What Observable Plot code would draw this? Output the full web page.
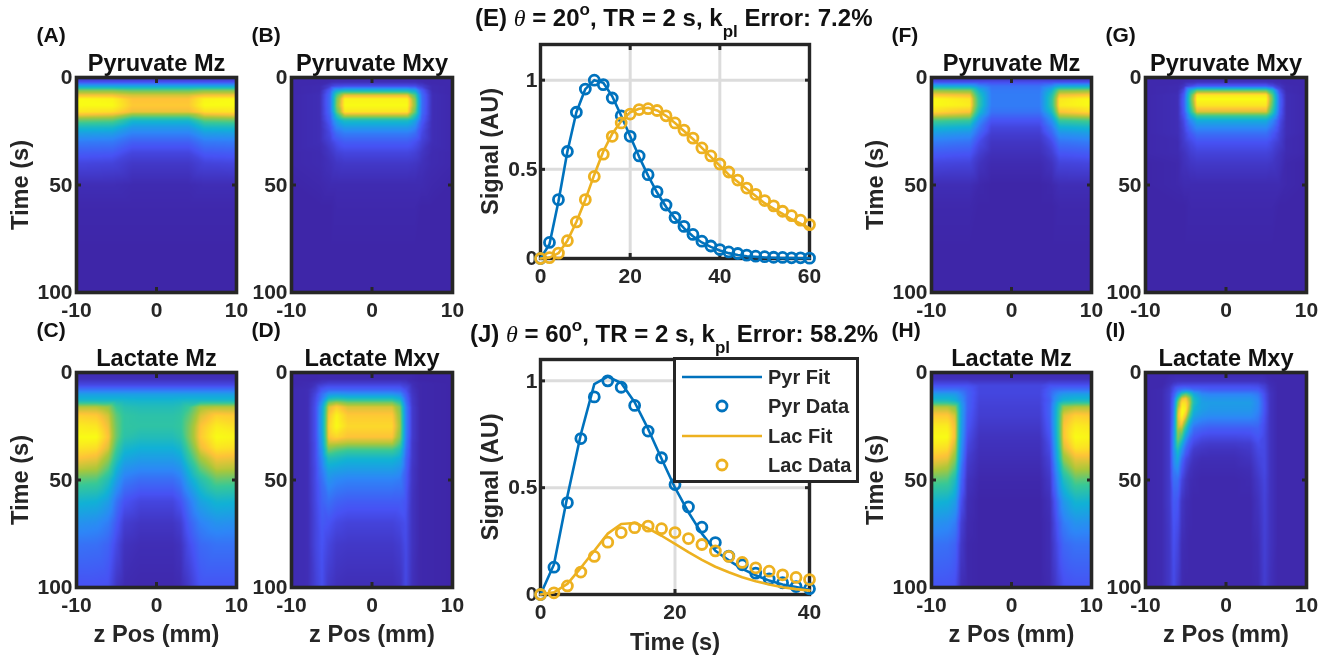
<!DOCTYPE html>
<html>
<head>
<meta charset="utf-8">
<script src="https://cdn.jsdelivr.net/npm/d3@7"></script>
<script src="https://cdn.jsdelivr.net/npm/@observablehq/plot@0.6"></script>
<style>
html,body{margin:0;padding:0;background:#fff;}
#page{position:relative;width:1338px;height:661px;overflow:hidden;font-family:"Liberation Sans",Arial,sans-serif;font-weight:bold;filter:blur(0.45px);}
#page svg.pl{position:absolute;overflow:visible;background:transparent;}
.ttl{position:absolute;white-space:nowrap;font-size:24px;line-height:28px;color:#111;z-index:5;}
.ttl i{font-family:"Liberation Serif",serif;font-weight:normal;}
.ttl .s{font-size:17px;position:relative;top:11px;}
.ttl .o{font-size:17px;position:relative;top:-11px;}
#legend{position:absolute;left:673px;top:357px;width:180px;height:120px;border:3.5px solid #262626;background:#fff;z-index:6;color:#262626;font-size:20px;}
#legend svg{position:absolute;left:0;top:0;}
#legend span{position:absolute;left:92px;line-height:24px;white-space:nowrap;}
</style>
</head>
<body>
<div id="page"></div>
<script>
// ---- line panels ----
const timeE = [0,2,4,6,8,10,12,14,16,18,20,22,24,26,28,30,32,34,36,38,40,42,44,46,48,50,52,54,56,58,60];
const pyrDataE = [0,.09,.33,.60,.82,.95,1,.975,.90,.80,.685,.575,.47,.375,.30,.23,.18,.135,.097,.07,.05,.037,.028,.019,.013,.01,.007,.006,.004,.004,.002];
const pyrFitE  = [0,.08,.32,.60,.82,.95,1,.985,.91,.80,.685,.57,.465,.37,.29,.225,.17,.125,.09,.065,.045,.03,.02,.013,.009,.006,.004,.002,.002,.001,.001];
const lacDataE = [0,.005,.03,.10,.205,.33,.46,.585,.685,.76,.81,.835,.84,.83,.80,.76,.72,.675,.62,.575,.53,.485,.44,.395,.36,.325,.295,.265,.24,.215,.19];
const lacFitE  = [0,.005,.03,.10,.205,.33,.47,.60,.70,.77,.82,.84,.845,.83,.80,.76,.715,.67,.62,.57,.52,.47,.43,.39,.35,.31,.28,.25,.22,.195,.17];
const timeJ = [0,2,4,6,8,10,12,14,16,18,20,22,24,26,28,30,32,34,36,38,40];
const pyrDataJ = [0,.128,.43,.73,.925,1,.97,.885,.765,.64,.515,.41,.315,.243,.18,.139,.10,.073,.055,.037,.027];
const pyrFitJ  = [0,.14,.46,.75,.985,1.02,.99,.90,.775,.635,.50,.385,.285,.205,.16,.12,.09,.065,.047,.035,.022];
const lacDataJ = [0,.008,.04,.105,.178,.245,.29,.313,.32,.308,.29,.262,.234,.204,.178,.15,.125,.109,.092,.08,.07];
const lacFitJ  = [0,.01,.05,.125,.205,.285,.33,.335,.31,.275,.237,.198,.162,.13,.104,.081,.062,.047,.034,.025,.018];

// ---- heat panels: rows are times (s), columns are z positions (mm), cells are % of the colour range ----
const tPyr = [0,2,4,6,8,10,13,16,18,20,23,26,30,35,40,50,60,80,100];
const zA = [-10,-5.5,-3,4,6,10];
const pyrMzA = [
[4,4,4,4,4,4],[15,15,15,15,15,15],[45,45,45,45,45,45],[78,78,74,74,78,78],[90,90,87,87,90,90],[100,99,92,92,99,100],
[100,100,93,93,100,100],[97,96,90,90,96,97],[88,86,74,74,86,88],[74,72,54,54,72,74],[56,55,41,41,55,56],[43,42,32,32,42,43],
[30,29,21,21,29,30],[20,19,12,12,19,20],[12,11,7,7,11,12],[3,3,2,2,3,3],[1,1,1,1,1,1],[0,0,0,0,0,0],[0,0,0,0,0,0]];
const zB = [-10,-6.5,-5.2,-4.4,-3.4,4.4,5.4,6.2,7.5,10];
const pyrMxyB = [
[1,1,1,1,1,1,1,1,1,1],[1,1,2,3,3,3,3,2,1,1],[1,2,9,14,15,15,14,9,2,1],[1,2,20,46,54,54,46,20,2,1],[1,3,25,68,88,88,68,25,3,1],
[1,3,26,76,99,99,76,26,3,1],[1,3,26,78,100,100,78,26,3,1],[1,3,25,72,97,97,72,25,3,1],[1,3,22,58,82,82,58,22,3,1],[1,3,20,44,56,56,44,20,3,1],
[1,3,16,34,42,42,34,16,3,1],[1,3,13,25,30,30,25,13,3,1],[1,3,10,16,20,20,16,10,3,1],[1,2,6,10,12,12,10,6,2,1],[1,2,4,6,7,7,6,4,2,1],
[0,1,2,2,2,2,2,2,1,0],[0,0,0,1,1,1,1,0,0,0],[0,0,0,0,0,0,0,0,0,0],[0,0,0,0,0,0,0,0,0,0]];
const zF = [-10,-5.2,-4,-2.5,3.5,5,6,10];
const pyrMzF = [
[3,3,3,3,3,3,3,3],[14,14,14,14,14,14,14,14],[48,46,34,26,26,34,46,48],[80,78,50,29,29,50,78,80],[92,90,58,30,30,58,90,92],
[100,97,62,30,30,62,97,100],[100,98,62,30,30,62,98,100],[96,92,54,27,27,54,92,96],[86,82,44,22,22,44,82,86],[70,66,36,17,17,36,66,70],
[54,50,28,12,12,28,50,54],[42,38,22,9,9,22,38,42],[30,27,14,6,6,14,27,30],[20,18,9,4,4,9,18,20],[12,11,5,2,2,5,11,12],
[3,3,1,0,0,1,3,3],[1,1,0,0,0,0,1,1],[0,0,0,0,0,0,0,0],[0,0,0,0,0,0,0,0]];
const zG = [-10,-6,-5.2,-4.4,-3.6,5,5.8,6.7,7.5,10];
const pyrMxyG = [
[1,1,1,1,1,1,1,1,1,1],[1,1,2,3,4,4,3,2,1,1],[1,2,6,14,20,20,14,6,2,1],[1,2,14,54,74,74,56,14,2,1],[1,3,20,68,97,97,70,20,3,1],
[1,3,22,72,100,100,74,22,3,1],[1,3,22,68,97,97,70,22,3,1],[1,3,20,60,88,88,62,20,3,1],[1,3,17,46,66,66,48,17,3,1],[1,3,14,34,48,48,34,14,3,1],
[1,3,12,26,36,36,26,12,3,1],[1,3,10,19,26,26,19,10,3,1],[1,2,8,13,17,17,13,8,2,1],[1,2,5,9,11,11,9,5,2,1],[0,1,4,6,7,7,6,4,1,0],
[0,1,2,2,2,2,2,2,1,0],[0,0,0,1,1,1,1,0,0,0],[0,0,0,0,0,0,0,0,0,0],[0,0,0,0,0,0,0,0,0,0]];
const tLacC = [0,3,6,8,10,13,16,20,25,30,35,40,45,50,60,70,80,100];
const zC = [-10,-7.5,-6,-5,-4,-2,2,3,4,5.5,7.5,10];
const lacMzC = [
[2,2,2,2,2,2,2,2,2,2,2,2],[4,4,4,4,4,4,4,4,4,4,4,4],[14,14,14,14,14,14,14,14,14,14,14,14],[27,27,27,27,27,27,27,27,27,27,27,27],[42,42,42,42,42,42,42,42,42,42,42,42],
[54,54,54,54,53,52,52,53,54,54,54,54],[84,84,80,66,60,58,58,60,66,82,84,84],[94,93,87,72,64,62,62,64,72,88,94,93],[98,97,90,74,64,63,63,65,76,92,98,96],[100,100,92,74,62,58,58,62,76,93,100,99],
[97,96,88,68,54,50,50,54,70,90,97,96],[92,90,80,60,46,42,42,46,62,82,91,90],[85,83,70,50,38,34,34,38,52,72,85,84],[72,70,58,42,30,25,25,30,44,60,73,72],[52,50,42,27,17,12,12,17,28,44,52,51],
[38,36,30,19,9,6,6,9,20,32,38,37],[27,26,22,13,5,3,3,5,14,24,27,27],[16,16,15,6,2,1,1,2,7,17,17,17]];
const tLacD = [0,3,5,8,10,12,14,16,20,25,30,33,36,40,45,50,60,70,80,100];
const zD = [-10,-8,-7,-6.2,-5.4,-4.4,-3,2.5,3.5,4.2,5,6,10];
const lacMxyD = [
[1,1,1,1,1,1,1,1,1,1,1,0,0],[1,1,1,2,2,2,2,2,2,2,1,0,0],[1,2,4,7,9,9,9,9,9,7,3,1,0],[2,3,9,18,22,22,22,22,21,15,5,1,0],[2,3,12,26,38,40,38,38,34,20,6,1,0],
[2,3,14,30,54,58,55,55,48,24,7,1,0],[2,3,15,38,76,82,76,76,64,28,7,1,0],[2,3,16,44,88,94,88,88,76,32,8,1,0],[2,3,16,46,92,99,93,93,80,33,8,1,0],[2,3,16,46,94,100,95,95,82,33,8,1,0],
[2,3,16,44,92,95,92,92,78,32,8,1,0],[2,3,15,42,86,86,84,84,70,30,7,1,0],[2,3,15,38,76,72,68,68,58,27,7,1,0],[2,3,15,34,58,56,52,52,47,24,7,1,0],[2,3,14,30,46,44,42,42,38,22,6,1,0],
[2,3,14,26,38,34,32,32,30,20,6,1,0],[2,3,13,22,26,22,20,20,20,17,5,1,0],[2,3,12,19,17,13,11,11,13,15,5,1,0],[2,3,12,17,12,8,7,7,9,14,5,1,0],[2,3,10,15,7,4,3,3,5,13,4,1,0]];
const zH = [-10,-8,-7,-6.3,-5.5,-4,3.5,4.8,5.5,6.5,8,10];
const lacMzH = [
[2,2,2,2,2,2,2,2,2,2,2,2],[4,4,4,4,4,4,4,4,4,4,4,4],[16,16,16,16,16,12,12,16,16,16,16,16],[26,26,26,24,20,12,12,20,24,26,26,26],[42,42,40,32,22,12,12,22,32,40,42,42],
[55,55,50,38,22,11,11,20,38,52,55,55],[84,84,78,44,22,10,10,22,46,80,84,84],[93,93,87,45,20,9,9,22,48,89,94,93],[98,98,90,44,18,7,7,20,48,92,98,97],[100,100,90,42,15,5,5,17,46,92,100,99],
[97,96,85,38,12,4,4,14,42,88,97,96],[92,90,78,34,9,3,3,11,38,80,90,90],[85,82,68,28,7,2,2,9,32,68,84,83],[72,70,56,24,5,1,1,7,27,56,72,71],[52,50,42,16,3,0,0,4,18,40,52,51],
[38,36,30,10,2,0,0,3,14,30,38,37],[27,26,22,7,1,0,0,3,11,23,27,27],[17,17,15,3,1,0,0,2,7,15,17,17]];
const tLacI = [0,4,6,8,10,12,14,17,20,23,26,30,33,36,40,45,50,60,80,100];
const zI = [-10,-8,-7,-6.5,-6,-5.5,-5,-4.5,-4,-3,-2,1,3,4,4.8,5.5,6.5,10];
const lacMxyI = [
[1,1,1,1,1,1,1,1,1,1,1,1,1,1,1,1,1,1],[1,1,3,4,5,5,5,5,5,5,5,5,5,5,4,2,1,1],[1,1,5,10,13,14,14,14,14,14,14,14,14,13,9,3,1,1],[1,2,7,15,24,28,30,28,24,22,20,20,20,19,12,4,1,1],
[1,2,8,20,38,62,72,62,46,34,32,32,32,28,15,5,1,1],[1,2,8,24,60,88,92,80,55,41,38,38,38,32,16,5,1,1],[1,2,8,26,75,96,96,84,58,43,42,42,42,34,17,5,1,1],[1,2,8,28,84,100,98,80,52,43,40,40,40,33,17,5,1,1],
[1,2,8,30,88,100,92,68,45,38,36,36,36,30,16,5,1,1],[1,2,8,32,86,95,78,52,36,30,28,28,28,26,15,5,1,1],[1,2,8,34,84,85,60,38,26,22,20,20,20,21,14,5,1,1],[1,2,8,36,78,68,42,26,18,14,13,13,14,18,13,5,1,1],
[1,2,8,36,70,52,30,19,13,9,8,8,9,15,13,5,1,1],[1,2,8,36,58,38,22,14,8,6,5,5,7,13,13,5,1,1],[1,2,8,34,48,26,14,9,5,3,3,3,5,11,13,5,1,1],[1,2,8,30,36,18,10,5,3,2,2,2,3,9,13,5,1,1],
[1,2,8,26,26,12,6,3,2,1,1,1,2,7,12,5,1,1],[1,2,8,20,18,6,3,2,1,1,1,1,1,5,11,5,1,1],[1,2,7,16,12,3,2,1,1,1,1,1,1,3,10,5,1,1],[1,2,7,14,8,2,1,1,1,1,1,1,1,2,9,4,1,1]];

// parula
const parulaStops = [0,16.67,33.33,50,66.67,83.33,92,100];
const parulaColors = ["#3e26a8","#4752f4","#2d87f7","#11b1d6","#37c897","#abc739","#fec338","#f9fb15"];
const ink = "#262626", blue = "#0072bd", gold = "#edb120", gridc = "#dcdcdc";

const page = document.getElementById("page");
const M = {l:70,r:30,t:50,b:70};
function place(svg, left, top){
  svg.classList.add("pl");
  svg.style.left = (left-M.l)+"px";
  svg.style.top = (top-M.t)+"px";
  page.appendChild(svg);
}
const lbl = (s, o) => Plot.text([s], {text:d=>d, fontSize:23.6, fontWeight:"bold", ...o});
const axes = (xt, yt, opts={}) => [
  Plot.axisX({anchor:"bottom",ticks:xt,tickSize:-5,fill:"none",stroke:ink,strokeWidth:3,label:null}),
  Plot.axisX({anchor:"top",ticks:xt,tickSize:-5,fill:"none",stroke:ink,strokeWidth:3,label:null}),
  Plot.axisY({anchor:"left",ticks:yt,tickSize:-5,fill:"none",stroke:ink,strokeWidth:3,label:null}),
  Plot.axisY({anchor:"right",ticks:yt,tickSize:-5,fill:"none",stroke:ink,strokeWidth:3,label:null}),
  Plot.axisX({anchor:"bottom",ticks:xt,tickSize:0,tickPadding:opts.xp ?? 10,fontSize:21,fontWeight:"bold",fill:ink,label:null,tickFormat:d=>String(d)}),
  Plot.axisY({anchor:"left",ticks:yt,tickSize:0,tickPadding:opts.yp ?? 4,fontSize:21,fontWeight:"bold",fill:ink,label:null,tickFormat:d=>String(d)})
];
const common = (w,h) => ({width:w+M.l+M.r,height:h+M.t+M.b,marginLeft:M.l,marginRight:M.r,marginTop:M.t,marginBottom:M.b,
  style:{fontFamily:"'Liberation Sans',Arial,sans-serif",background:"transparent",overflow:"visible"}});

function heat(p){
  const data = [];
  p.m.forEach((row,i)=>row.forEach((v,j)=>data.push({z:p.zs[j],t:p.ts[i],v})));
  const svg = Plot.plot({
    ...common(p.w,p.h),
    x:{domain:[-10,10]},
    y:{domain:[0,100],reverse:true},
    color:{type:"linear",domain:parulaStops,range:parulaColors,interpolate:"rgb"},
    marks:[
      Plot.raster(data,{x:"z",y:"t",fill:"v",interpolate:"barycentric",pixelSize:1}),
      Plot.frame({stroke:ink,strokeWidth:3.6}),
      ...axes([-10,0,10],[0,50,100]),
      lbl(p.title,{frameAnchor:"top",dy:-7,lineAnchor:"bottom",fill:"#111"}),
      Plot.text([p.letter],{text:d=>d,frameAnchor:"top-left",dx:-40,dy:-42,textAnchor:"start",lineAnchor:"middle",fontSize:21,fontWeight:"bold",fill:"#111"}),
      p.yl ? lbl("Time (s)",{frameAnchor:"left",rotate:-90,dx:-56,textAnchor:"middle",fill:ink}) : null,
      p.xl ? lbl("z Pos (mm)",{frameAnchor:"bottom",dy:47,lineAnchor:"middle",fill:ink}) : null
    ]
  });
  place(svg,p.x,p.y);
}
const rowT=77, rowB=372, hT=215, hB=215;
heat({x:76,y:rowT,w:160,h:hT,zs:zA,ts:tPyr,m:pyrMzA,title:"Pyruvate Mz",letter:"(A)",yl:true});
heat({x:291,y:rowT,w:161,h:hT,zs:zB,ts:tPyr,m:pyrMxyB,title:"Pyruvate Mxy",letter:"(B)"});
heat({x:76,y:rowB,w:160,h:hB,zs:zC,ts:tLacC,m:lacMzC,title:"Lactate Mz",letter:"(C)",yl:true,xl:true});
heat({x:291,y:rowB,w:161,h:hB,zs:zD,ts:tLacD,m:lacMxyD,title:"Lactate Mxy",letter:"(D)",xl:true});
heat({x:931,y:rowT,w:160,h:hT,zs:zF,ts:tPyr,m:pyrMzF,title:"Pyruvate Mz",letter:"(F)",yl:true});
heat({x:1145,y:rowT,w:161,h:hT,zs:zG,ts:tPyr,m:pyrMxyG,title:"Pyruvate Mxy",letter:"(G)"});
heat({x:931,y:rowB,w:160,h:hB,zs:zH,ts:tLacC,m:lacMzH,title:"Lactate Mz",letter:"(H)",yl:true,xl:true});
heat({x:1145,y:rowB,w:161,h:hB,zs:zI,ts:tLacI,m:lacMxyI,title:"Lactate Mxy",letter:"(I)",xl:true});

function lines(p){
  const T = p.t;
  const zip = a => T.map((t,i)=>({t,v:a[i]}));
  const svg = Plot.plot({
    ...common(p.w,p.h),
    x:{domain:p.xd},
    y:{domain:p.yd},
    marks:[
      Plot.ruleX(p.gx,{stroke:gridc,strokeWidth:3}),
      Plot.ruleY(p.gy,{stroke:gridc,strokeWidth:3}),
      Plot.frame({stroke:ink,strokeWidth:3.4}),
      ...axes(p.xt,[0,0.5,1],{yp:3}),
      Plot.line(zip(p.pf),{x:"t",y:"v",stroke:blue,strokeWidth:2.6}),
      Plot.dot(zip(p.pd),{x:"t",y:"v",stroke:blue,fill:"none",r:5,strokeWidth:2.8}),
      Plot.line(zip(p.lf),{x:"t",y:"v",stroke:gold,strokeWidth:2.6}),
      Plot.dot(zip(p.ld),{x:"t",y:"v",stroke:gold,fill:"none",r:5,strokeWidth:2.8}),
      lbl("Signal (AU)",{frameAnchor:"left",rotate:-90,dx:-50,textAnchor:"middle",fill:ink}),
      p.xl ? lbl(p.xl,{frameAnchor:"bottom",dy:48,lineAnchor:"middle",fill:ink}) : null
    ]
  });
  place(svg,p.x,p.y);
}
lines({x:540,y:44,w:269,h:214,t:timeE,pf:pyrFitE,pd:pyrDataE,lf:lacFitE,ld:lacDataE,xd:[0,60],yd:[0,1.2],gx:[20,40],gy:[0.5,1],xt:[0,20,40,60]});
lines({x:540,y:359,w:269,h:235,t:timeJ,pf:pyrFitJ,pd:pyrDataJ,lf:lacFitJ,ld:lacDataJ,xd:[0,40],yd:[0,1.1],gx:[20],gy:[0.5,1],xt:[0,20,40],xl:"Time (s)"});

function title(left, top, ang, err, L){
  const d = document.createElement("div");
  d.className = "ttl";
  d.style.left = left+"px"; d.style.top = top+"px";
  d.innerHTML = `(${L}) <i>&theta;</i> = ${ang}<span class="o">o</span>, TR = 2 s, k<span class="s">pl</span> Error: ${err}%`;
  page.appendChild(d);
}
title(475,4,20,"7.2","E");
title(470,320,60,"58.2","J");

const lg = document.createElement("div"); lg.id="legend";
lg.innerHTML = `<svg width="180" height="120">
<line x1="6" x2="86" y1="17" y2="17" stroke="${blue}" stroke-width="2.6"/>
<circle cx="46" cy="46" r="5" fill="none" stroke="${blue}" stroke-width="2.8"/>
<line x1="6" x2="86" y1="76" y2="76" stroke="${gold}" stroke-width="2.6"/>
<circle cx="46" cy="105" r="5" fill="none" stroke="${gold}" stroke-width="2.8"/></svg>
<span style="top:5px">Pyr Fit</span><span style="top:34px">Pyr Data</span><span style="top:64px">Lac Fit</span><span style="top:93px">Lac Data</span>`;
page.appendChild(lg);
</script>
</body>
</html>
